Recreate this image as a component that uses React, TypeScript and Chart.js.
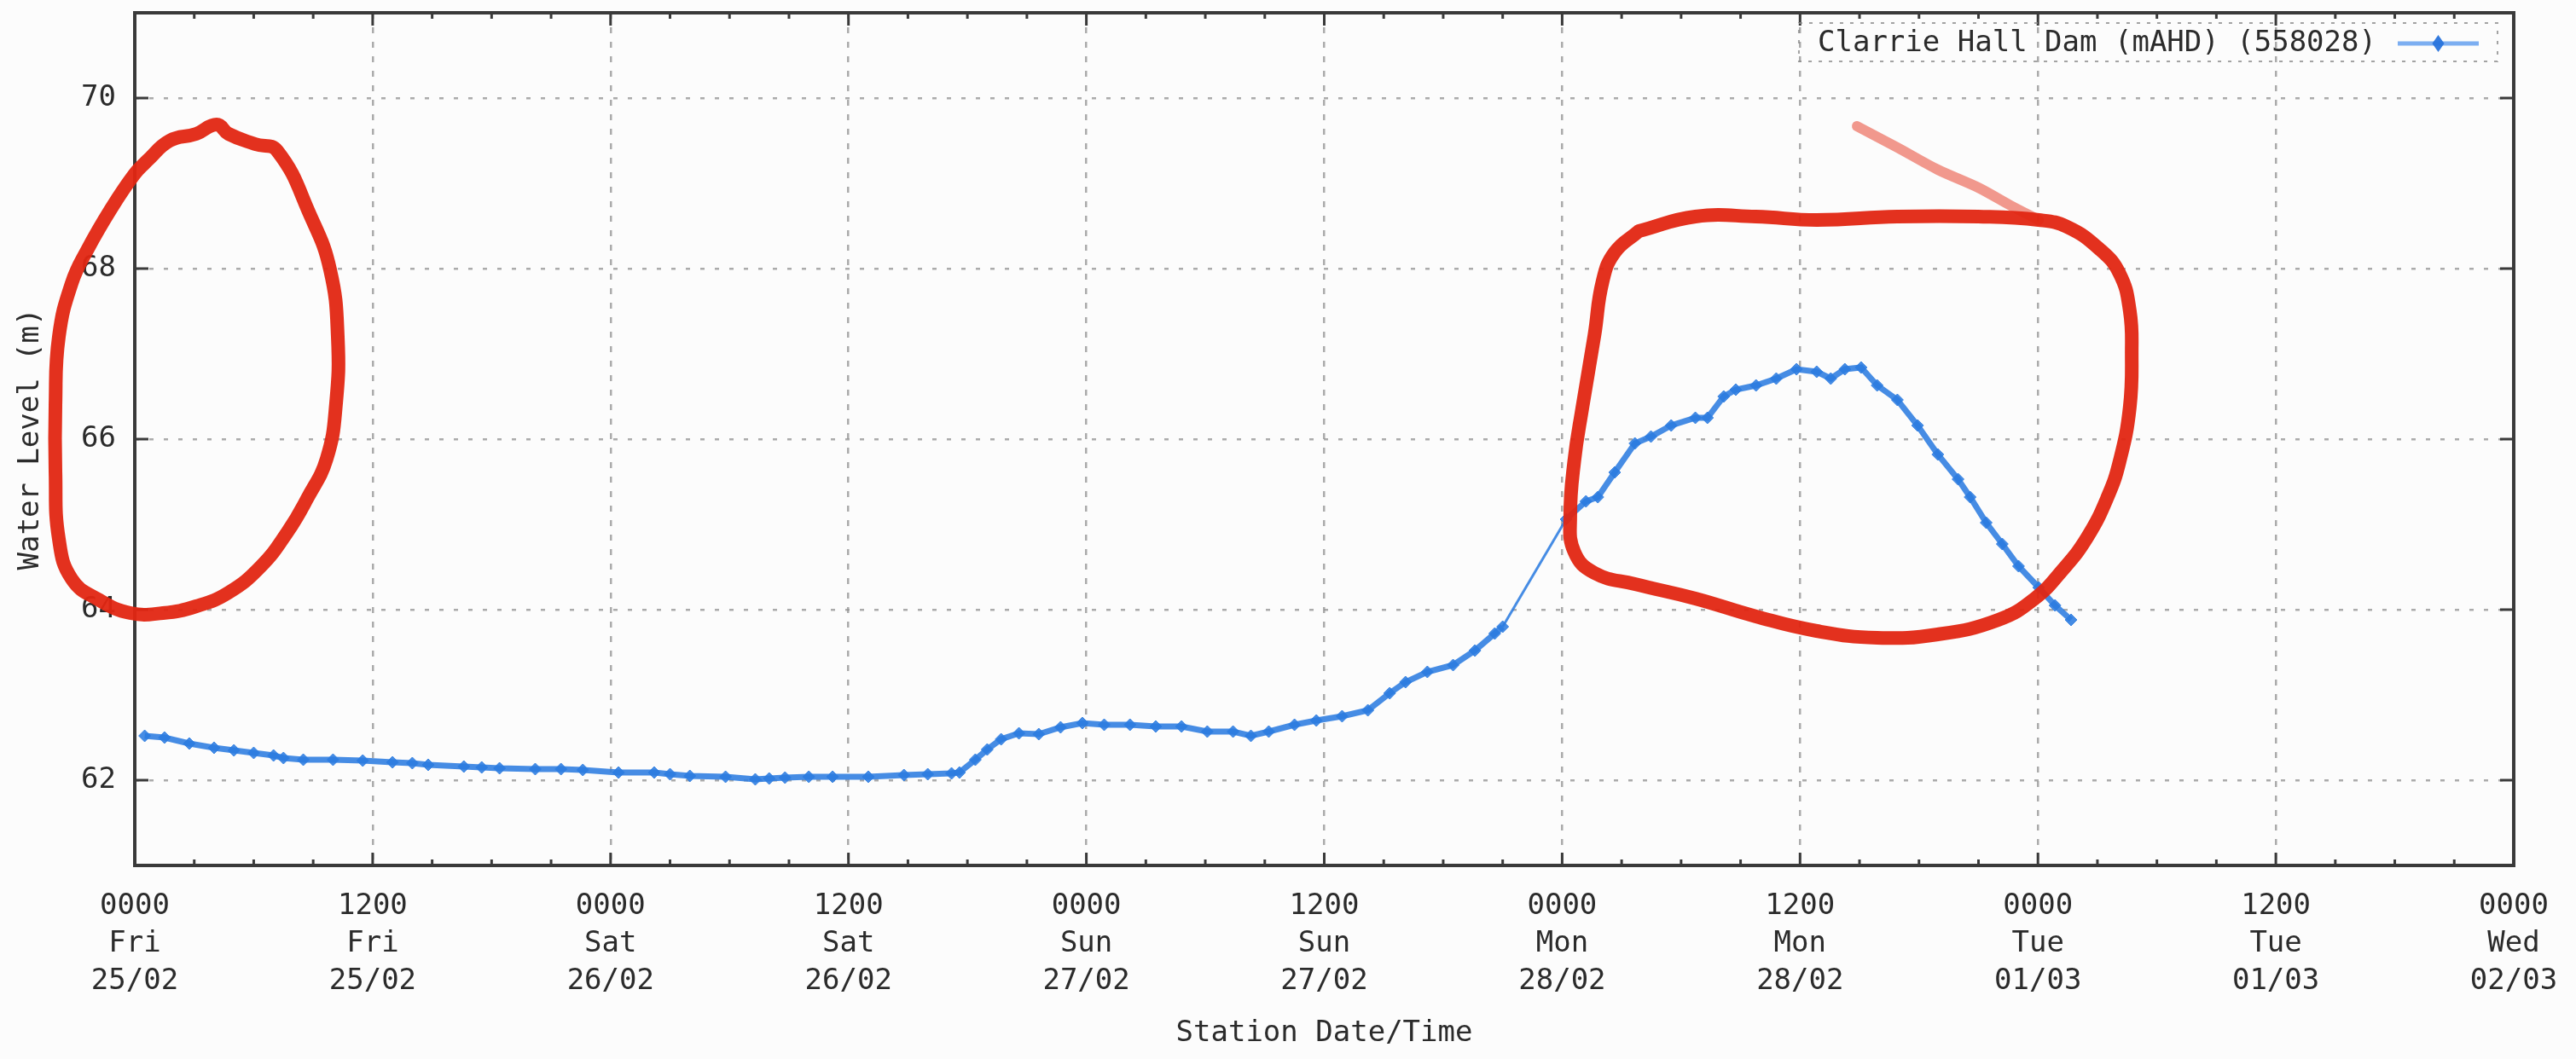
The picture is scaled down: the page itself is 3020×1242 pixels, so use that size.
import React, { useEffect, useRef } from "react";
import { Chart, registerables } from "chart.js";

Chart.register(...registerables);

// ---------- data ----------
const SERIES_LABEL = "Clarrie Hall Dam (mAHD) (558028)";

// hours since 0000 Fri 25/02
const HOURS = [
  0.5, 1.5, 2.75, 4.0, 5.0, 6.0, 7.0, 7.5, 8.5, 10.0, 11.5, 13.0, 14.0, 14.8, 16.6, 17.5,
  18.4, 20.2, 21.5, 22.6, 24.4, 26.2, 27.0, 28.0, 29.8, 31.3, 32.0, 32.8, 34.0, 35.2, 37.0,
  38.8, 40.0, 41.2, 41.6, 42.4, 43.0, 43.7, 44.6, 45.6, 46.7, 47.8, 48.9, 50.2, 51.5, 52.8,
  54.1, 55.4, 56.3, 57.2, 58.5, 59.6, 60.9, 62.2, 63.3, 64.1, 65.2, 66.5, 67.6, 68.6, 69.0,
  72.2, 73.2, 73.8, 74.65, 75.67, 76.48, 77.5, 78.72, 79.33, 80.15, 80.76, 81.78, 82.8,
  83.82, 84.84, 85.55, 86.26, 87.08, 87.89, 88.91, 89.93, 90.95, 91.97, 92.58, 93.39, 94.2,
  95.02, 96.04, 96.86, 97.67,
];
const LEVELS = [
  62.52, 62.5, 62.43, 62.38, 62.35, 62.32, 62.29, 62.26, 62.24, 62.24, 62.23, 62.21, 62.2,
  62.18, 62.16, 62.15, 62.14, 62.13, 62.13, 62.12, 62.09, 62.09, 62.07, 62.05, 62.04, 62.01,
  62.02, 62.03, 62.04, 62.04, 62.04, 62.06, 62.07, 62.08, 62.09, 62.24, 62.36, 62.48, 62.55,
  62.54, 62.62, 62.67, 62.65, 62.65, 62.63, 62.63, 62.57, 62.57, 62.52, 62.57, 62.65, 62.7,
  62.75, 62.82, 63.02, 63.15, 63.27, 63.35, 63.52, 63.72, 63.8,
  65.06, 65.27, 65.32, 65.61, 65.95, 66.03, 66.16, 66.25, 66.25, 66.5, 66.58, 66.63, 66.71,
  66.82, 66.79, 66.71, 66.82, 66.84, 66.63, 66.46, 66.16, 65.82, 65.53, 65.32, 65.02, 64.77,
  64.51, 64.26, 64.05, 63.88,
];

const X_TICKS = [0, 12, 24, 36, 48, 60, 72, 84, 96, 108, 120];
const TIME_LABELS = ["0000", "1200", "0000", "1200", "0000", "1200", "0000", "1200", "0000", "1200", "0000"];
const DAY_LABELS = ["Fri", "Fri", "Sat", "Sat", "Sun", "Sun", "Mon", "Mon", "Tue", "Tue", "Wed"];
const DATE_LABELS = ["25/02", "25/02", "26/02", "26/02", "27/02", "27/02", "28/02", "28/02", "01/03", "01/03", "02/03"];
const X_MINOR_TICKS = [
  3, 6, 9, 15, 18, 21, 27, 30, 33, 39, 42, 45, 51, 54, 57, 63, 66, 69, 75, 78, 81, 87, 90, 93,
  99, 102, 105, 111, 114, 117,
];
const Y_TICKS = [62, 64, 66, 68, 70];

// hand-drawn red annotations (in hours / metres)
const OVAL_HOURS = [
  0.6, 1.76, 3.1, 4.13, 4.73, 6.07, 7.19, 8.86, 9.85, 10.24, 10.15, 9.68, 8.69, 7.7, 6.37, 4.73,
  3.1, 1.42, -0.22, -1.85, -3.18, -3.83, -4.0, -4.0, -3.83, -3.18, -2.37, -1.2, -0.04, 0.6,
];
const OVAL_LEVELS = [
  69.26, 69.5, 69.58, 69.69, 69.58, 69.46, 69.38, 68.62, 67.99, 67.2, 66.41, 65.77, 65.3, 64.91,
  64.51, 64.2, 64.04, 63.96, 63.96, 64.12, 64.36, 64.83, 65.61, 66.41, 67.2, 67.83, 68.23, 68.7,
  69.1, 69.26,
];
const BOX_HOURS = [
  75.87, 78.72, 81.78, 84.84, 88.91, 92.99, 96.04, 97.47, 99.1, 100.12, 100.63, 100.73, 100.63,
  100.12, 99.51, 98.49, 97.26, 95.84, 94.0, 90.95, 87.89, 84.84, 81.78, 78.72, 75.67, 73.63,
  72.61, 72.41, 72.61, 73.02, 73.63, 74.04, 74.65, 75.87,
];
const BOX_LEVELS = [
  68.44, 68.61, 68.61, 68.57, 68.61, 68.61, 68.57, 68.49, 68.23, 67.94, 67.51, 67.01, 66.37,
  65.74, 65.32, 64.85, 64.47, 64.13, 63.88, 63.71, 63.67, 63.75, 63.92, 64.13, 64.3, 64.43,
  64.68, 65.1, 65.74, 66.37, 67.22, 67.85, 68.19, 68.44,
];
const STROKE_HOURS = [86.87, 88.91, 90.95, 92.99, 94.62, 96.04];
const STROKE_LEVELS = [69.67, 69.42, 69.16, 68.95, 68.74, 68.57];

// ---------- styling ----------
const FONT_FAMILY = "'DejaVu Sans Mono', 'Liberation Mono', monospace";
const TEXT_COLOR = "#2b2b2b";
const FRAME_COLOR = "#3a3a3a";
const BLUE = "rgba(44,124,224,0.88)";
const RED = "rgba(226,38,18,0.95)";

const toPoints = (xs: number[], ys: number[]) => xs.map((x, i) => ({ x, y: ys[i] }));

const gnuplotFrame = {
  id: "gnuplotFrame",
  beforeDatasetsDraw(chart: any) {
    const { ctx, chartArea: a, scales } = chart;
    const xs = scales.x;
    const ys = scales.y;
    const seg = (x1: number, y1: number, x2: number, y2: number) => {
      ctx.beginPath();
      ctx.moveTo(x1, y1);
      ctx.lineTo(x2, y2);
      ctx.stroke();
    };
    ctx.save();
    ctx.strokeStyle = FRAME_COLOR;
    ctx.lineWidth = 3;
    X_TICKS.forEach((h) => {
      const px = xs.getPixelForValue(h);
      seg(px, a.bottom, px, a.bottom - 15);
      seg(px, a.top, px, a.top + 15);
    });
    X_MINOR_TICKS.forEach((h) => {
      const px = xs.getPixelForValue(h);
      seg(px, a.bottom, px, a.bottom - 7);
      seg(px, a.top, px, a.top + 7);
    });
    Y_TICKS.forEach((v) => {
      const py = ys.getPixelForValue(v);
      seg(a.left, py, a.left + 16, py);
      seg(a.right, py, a.right - 16, py);
    });
    ctx.lineWidth = 4;
    ctx.strokeRect(a.left, a.top, a.right - a.left, a.bottom - a.top);

    // legend (gnuplot style: text, then sample on the right, dotted box)
    const label = chart.data.datasets[0].label;
    ctx.font = `34px ${FONT_FAMILY}`;
    ctx.fillStyle = TEXT_COLOR;
    ctx.textAlign = "right";
    ctx.textBaseline = "middle";
    const cy = a.top + 36;
    const textRight = a.right - 161;
    ctx.fillText(label, textRight, cy);
    const tw = ctx.measureText(label).width;
    const sx1 = a.right - 136;
    const sx2 = a.right - 41;
    ctx.strokeStyle = "rgba(110,165,240,0.9)";
    ctx.lineWidth = 5;
    seg(sx1, cy, sx2, cy);
    ctx.fillStyle = "rgba(40,115,220,0.95)";
    ctx.beginPath();
    const sm = (sx1 + sx2) / 2;
    ctx.moveTo(sm, cy - 10);
    ctx.lineTo(sm + 7, cy);
    ctx.lineTo(sm, cy + 10);
    ctx.lineTo(sm - 7, cy);
    ctx.closePath();
    ctx.fill();
    ctx.strokeStyle = "rgba(140,140,140,0.8)";
    ctx.lineWidth = 2;
    ctx.setLineDash([4, 8]);
    const bl = textRight - tw - 22;
    ctx.strokeRect(bl, a.top + 12, a.right - 19 - bl, 45);
    ctx.setLineDash([]);
    ctx.restore();
  },
};

export default function App() {
  const canvasRef = useRef<HTMLCanvasElement | null>(null);

  useEffect(() => {
    document.body.style.margin = "0";
    document.body.style.background = "#fcfcfc";
    const canvas = canvasRef.current;
    if (!canvas) return;
    const tickFont = { family: FONT_FAMILY, size: 34, lineHeight: 1.3 };
    const redLine = {
      showLine: true,
      borderColor: RED,
      borderWidth: 16,
      pointRadius: 0,
      tension: 0.45,
      clip: false,
      borderCapStyle: "round",
      borderJoinStyle: "round",
      order: 0,
    };
    const chart = new Chart(canvas, {
      type: "scatter",
      data: {
        datasets: [
          {
            label: SERIES_LABEL,
            data: toPoints(HOURS, LEVELS),
            showLine: true,
            borderColor: BLUE,
            backgroundColor: BLUE,
            borderWidth: 6,
            segment: {
              borderWidth: (c: any) => (c.p1.parsed.x - c.p0.parsed.x > 2 ? 3 : 7),
            },
            pointStyle: "rectRot",
            pointRadius: 7,
            pointBorderWidth: 1,
            order: 2,
          } as any,
          { label: "annotation-oval", data: toPoints(OVAL_HOURS, OVAL_LEVELS), ...redLine } as any,
          { label: "annotation-box", data: toPoints(BOX_HOURS, BOX_LEVELS), ...redLine } as any,
          {
            label: "annotation-stroke",
            data: toPoints(STROKE_HOURS, STROKE_LEVELS),
            showLine: true,
            borderColor: "rgba(232,70,50,0.55)",
            borderWidth: 12,
            pointRadius: 0,
            tension: 0.3,
            clip: false,
            borderCapStyle: "round",
            order: 1,
          } as any,
        ],
      },
      options: {
        responsive: true,
        maintainAspectRatio: false,
        animation: false,
        devicePixelRatio: 1,
        layout: { padding: { top: 15, right: 73, left: 0, bottom: 0 } },
        plugins: {
          legend: { display: false },
          tooltip: { enabled: false },
        },
        scales: {
          x: {
            type: "linear",
            min: 0,
            max: 120,
            afterBuildTicks: (s: any) => {
              s.ticks = X_TICKS.map((v) => ({ value: v }));
            },
            afterFit: (s: any) => {
              s.height = 227;
              s.paddingLeft = 0;
              s.paddingRight = 0;
            },
            grid: {
              color: "rgba(150,150,150,0.8)",
              lineWidth: 2.5,
              drawTicks: false,
            },
            border: { display: false, dash: [7, 10] },
            ticks: {
              autoSkip: false,
              maxRotation: 0,
              padding: 26,
              color: TEXT_COLOR,
              font: tickFont,
              callback: (_v: any, i: number) => [TIME_LABELS[i], DAY_LABELS[i], DATE_LABELS[i]],
            },
            title: {
              display: true,
              text: "Station Date/Time",
              color: TEXT_COLOR,
              font: { family: FONT_FAMILY, size: 34 },
              padding: { top: 0, bottom: 9 },
            },
          },
          y: {
            type: "linear",
            min: 61,
            max: 71,
            afterBuildTicks: (s: any) => {
              s.ticks = Y_TICKS.map((v) => ({ value: v }));
            },
            afterFit: (s: any) => {
              s.width = 158;
              s.paddingTop = 0;
              s.paddingBottom = 0;
            },
            grid: {
              color: "rgba(150,150,150,0.8)",
              lineWidth: 2.5,
              drawTicks: false,
            },
            border: { display: false, dash: [5, 12] },
            ticks: {
              padding: 22,
              color: TEXT_COLOR,
              font: { family: FONT_FAMILY, size: 34 },
            },
            title: {
              display: true,
              text: "Water Level (m)",
              color: TEXT_COLOR,
              font: { family: FONT_FAMILY, size: 34 },
              padding: { top: 16, bottom: 0 },
            },
          },
        },
      },
      plugins: [gnuplotFrame],
    } as any);
    return () => chart.destroy();
  }, []);

  return (
    <div style={{ width: 3020, height: 1242, position: "relative" }}>
      <canvas ref={canvasRef} />
    </div>
  );
}
